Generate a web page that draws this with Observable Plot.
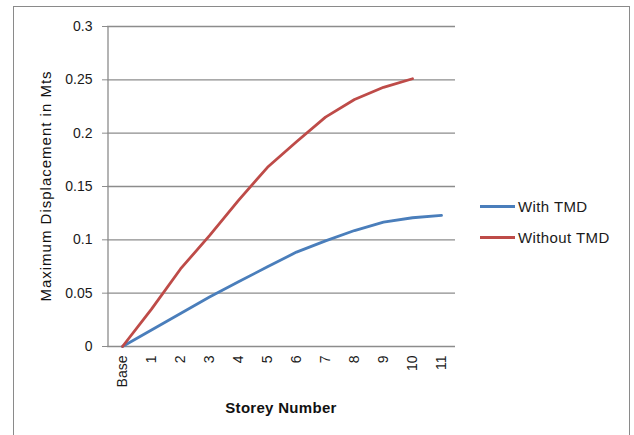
<!DOCTYPE html>
<html>
<head>
<meta charset="utf-8">
<script src="https://cdn.jsdelivr.net/npm/d3@7"></script>
<script src="https://cdn.jsdelivr.net/npm/@observablehq/plot@0.6"></script>
<style>
  html, body { margin: 0; padding: 0; background: #fff; }
  body { width: 634px; height: 435px; overflow: hidden; font-family: "Liberation Sans", Arial, sans-serif; }
  #wrap { position: relative; width: 634px; height: 435px; }
  #border { position: absolute; left: 13px; top: 6px; width: 617px; height: 440px; border: 1px solid #8a8a8a; box-sizing: border-box; }
  #chart { position: absolute; left: 0; top: 0; }
  .legend { position: absolute; left: 480px; font-size: 15px; letter-spacing: 0.4px; color: #1a1a1a; }
  .legend .item { position: absolute; left: 0; white-space: nowrap; display: flex; align-items: center; }
  .legend .sw { display: inline-block; width: 35px; height: 3px; margin-right: 3px; }
  #ytitle { position: absolute; left: 45px; top: 186px; transform: translate(-50%, -50%) rotate(-90deg); font-size: 15px; letter-spacing: 1px; white-space: nowrap; color: #111; }
  #xtitle { position: absolute; left: 281px; top: 407px; transform: translate(-50%, -50%); font-size: 15px; letter-spacing: 0.3px; font-weight: bold; white-space: nowrap; color: #111; }
</style>
</head>
<body>
<div id="wrap">
  <div id="border"></div>
  <div id="chart"></div>
  <div id="ytitle">Maximum Displacement in Mts</div>
  <div id="xtitle">Storey Number</div>
  <div class="legend" id="legend"></div>
</div>
<script>
const storeys = ["Base", "1", "2", "3", "4", "5", "6", "7", "8", "9", "10", "11"];
const withTMD = [0, 0.0155, 0.031, 0.0464, 0.0607, 0.0747, 0.0885, 0.099, 0.1087, 0.1166, 0.1207, 0.123];
const withoutTMD = [0, 0.035, 0.0727, 0.104, 0.137, 0.168, 0.192, 0.215, 0.2316, 0.243, 0.251];
const seriesNames = ["With TMD", "Without TMD"];
const seriesColors = ["#4a7ebb", "#be4b48"];
const yTicks = [0, 0.05, 0.1, 0.15, 0.2, 0.25, 0.3];

const rows = [];
withTMD.forEach((v, i) => rows.push({storey: storeys[i], value: v, series: seriesNames[0]}));
withoutTMD.forEach((v, i) => rows.push({storey: storeys[i], value: v, series: seriesNames[1]}));

const chart = Plot.plot({
  width: 634,
  height: 435,
  marginLeft: 107,
  marginRight: 179,
  marginTop: 26,
  marginBottom: 89,
  style: {fontFamily: "'Liberation Sans', Arial, sans-serif", fontSize: "14px", color: "#1a1a1a", background: "transparent", overflow: "visible"},
  x: {type: "point", domain: storeys, padding: 0.5},
  y: {domain: [0, 0.3]},
  color: {domain: seriesNames, range: seriesColors},
  marks: [
    Plot.ruleY(yTicks, {stroke: "#8c8c8c", strokeWidth: 1.3}),
    Plot.ruleX([storeys[0]], {dx: -14.5, stroke: "#8c8c8c", strokeWidth: 1.3}),
    Plot.axisY({ticks: yTicks, tickSize: 5, tickPadding: 10, tickFormat: d => String(+d.toFixed(2)), label: null, stroke: "#8c8c8c"}),
    Plot.axisX({tickSize: 0, tickRotate: -90, tickPadding: 9, label: null}),
    Plot.line(rows, {x: "storey", y: "value", z: "series", stroke: "series", strokeWidth: 2.8})
  ]
});
document.getElementById("chart").appendChild(chart);

const legend = document.getElementById("legend");
const legendTops = [198, 229];
seriesNames.forEach((name, i) => {
  const item = document.createElement("div");
  item.className = "item";
  item.style.top = legendTops[i] + "px";
  const sw = document.createElement("span");
  sw.className = "sw";
  sw.style.background = seriesColors[i];
  item.appendChild(sw);
  item.appendChild(document.createTextNode(name));
  legend.appendChild(item);
});
</script>
</body>
</html>
